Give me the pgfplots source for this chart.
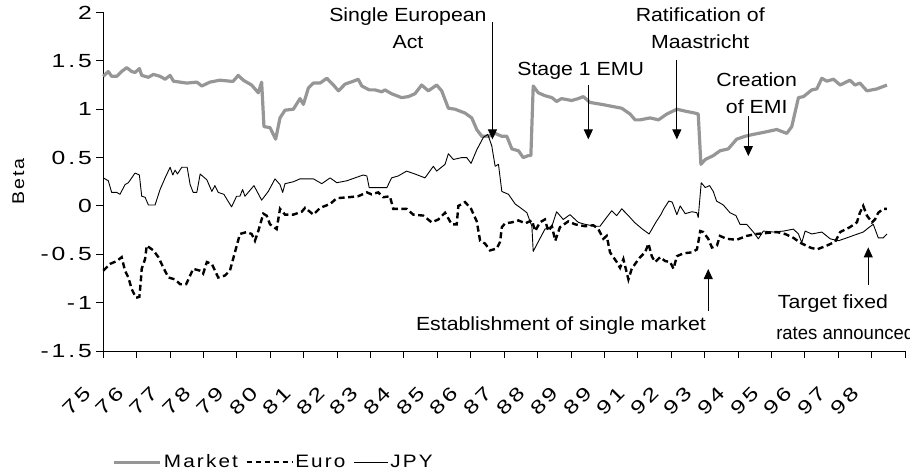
\documentclass[border=0pt]{standalone}
\usepackage{pgfplots}
\pgfplotsset{compat=1.18}
\usetikzlibrary{arrows.meta}
\usepackage{graphicx}
\usepackage{fontspec}
\setmainfont{Liberation Sans}[FakeStretch=1.12]
\newfontfamily\tickfam{Liberation Sans}[FakeStretch=1.3, LetterSpace=15]
\newfontfamily\legfam{Liberation Sans}[FakeStretch=1.15, LetterSpace=12]
\newcommand\annfont{\fontsize{19}{26.7}\selectfont}
\newcommand\tkfont{\tickfam\fontsize{19}{22}\selectfont}
\newcommand\lgfont{\legfam\fontsize{18}{22}\selectfont}
\newcommand\ylfont{\legfam\fontsize{17}{22}\selectfont}
\definecolor{mktgray}{RGB}{150,150,150}
\begin{document}
\begin{tikzpicture}
\path[use as bounding box] (-103.3pt,-122pt) rectangle (806.7pt,351pt);
\begin{axis}[
  at={(0pt,0pt)}, anchor=south west,
  scale only axis, width=801.7pt, height=338.5pt,
  xmin=0, xmax=24, ymin=-1.5, ymax=2,
  clip=false,
  axis x line*=bottom, axis y line*=left,
  axis line style={line width=0.9pt, black},
  tick style={line width=0.9pt, black},
  tick align=outside,
  major tick length=7pt,
  xtick={0,1,...,24},
  xticklabels={75,76,77,78,79,80,81,82,83,84,85,86,87,88,89,89,91,92,93,94,95,96,97,98,{}},
  ytick={-1.5,-1,-0.5,0,0.5,1,1.5,2},
  yticklabels={-1.5,-1,-0.5,0,0.5,1,1.5,2},
  ticklabel style={font=\tkfont},
  yticklabel style={xshift=-1pt},
  xticklabel style={xshift=-26.7pt, yshift=-43pt, rotate=45, anchor=center},
  ylabel={Beta},
  ylabel style={font=\ylfont},
  every axis y label/.append style={at={(axis description cs:-0.106,0.5)}, anchor=center},
  legend columns=3,
  legend style={at={(axis description cs:0.008,-0.328)}, anchor=west, draw=none, fill=none,
    font=\lgfont, /tikz/every even column/.append style={column sep=6pt}},
  legend image code/.code={\draw[#1] (0pt,0pt) -- (46pt,0pt);},
]
\addplot[mktgray, line width=3.2pt, line join=round,
  legend image code/.code={\draw[mktgray, line width=3pt] (0pt,0pt) -- (46pt,0pt);}] coordinates {
(0.00,1.34)(0.15,1.39)(0.25,1.34)(0.40,1.34)(0.55,1.39)(0.70,1.43)(0.85,1.39)(0.95,1.38)(1.08,1.42)(1.15,1.35)(1.35,1.33)(1.50,1.36)(1.70,1.34)(1.85,1.31)(2.00,1.35)(2.10,1.29)(2.30,1.28)(2.50,1.27)(2.80,1.28)(2.95,1.24)(3.19,1.28)(3.49,1.30)(3.79,1.29)(3.89,1.29)(4.04,1.35)(4.19,1.30)(4.44,1.25)(4.64,1.17)(4.74,1.28)(4.81,0.82)(4.99,0.81)(5.16,0.69)(5.29,0.91)(5.44,0.99)(5.69,1.00)(5.89,1.11)(5.99,1.05)(6.14,1.22)(6.29,1.27)(6.49,1.27)(6.69,1.32)(6.89,1.25)(7.04,1.19)(7.24,1.26)(7.49,1.29)(7.63,1.31)(7.74,1.24)(7.96,1.20)(8.13,1.20)(8.34,1.18)(8.43,1.20)(8.63,1.16)(8.93,1.12)(9.13,1.13)(9.33,1.16)(9.53,1.25)(9.73,1.19)(9.98,1.25)(10.13,1.19)(10.33,1.01)(10.53,1.00)(10.83,0.96)(11.03,0.91)(11.18,0.79)(11.33,0.72)(11.53,0.72)(11.73,0.75)(11.93,0.72)(12.08,0.72)(12.23,0.59)(12.43,0.57)(12.57,0.50)(12.72,0.52)(12.80,0.52)(12.87,1.24)(13.02,1.17)(13.22,1.14)(13.43,1.12)(13.57,1.08)(13.72,1.11)(14.02,1.09)(14.22,1.11)(14.37,1.13)(14.57,1.07)(14.92,1.05)(15.22,1.03)(15.52,1.01)(15.77,0.95)(15.92,0.89)(16.07,0.89)(16.37,0.91)(16.62,0.89)(16.87,0.95)(17.17,1.00)(17.42,0.98)(17.71,0.96)(17.81,0.95)(17.89,0.43)(18.02,0.48)(18.26,0.52)(18.46,0.57)(18.71,0.59)(18.96,0.69)(19.21,0.72)(19.46,0.74)(19.76,0.76)(20.16,0.79)(20.46,0.75)(20.61,0.82)(20.81,1.12)(20.96,1.13)(21.21,1.20)(21.36,1.21)(21.51,1.32)(21.66,1.29)(21.86,1.31)(22.06,1.25)(22.35,1.30)(22.50,1.25)(22.65,1.27)(22.86,1.19)(23.16,1.21)(23.46,1.25)
};
\addlegendentry{Market}
\addplot[black, line width=2.4pt, dash pattern=on 6pt off 3.5pt,
  legend image code/.code={\draw[black, line width=1.3pt, dash pattern=on 5pt off 4pt] (2pt,0pt) -- (48pt,0pt);}] coordinates {
(0.00,-0.67)(0.20,-0.60)(0.40,-0.57)(0.55,-0.53)(0.65,-0.67)(0.75,-0.74)(0.85,-0.86)(0.98,-0.95)(1.08,-0.94)(1.12,-0.79)(1.15,-0.65)(1.25,-0.55)(1.30,-0.41)(1.50,-0.46)(1.65,-0.53)(1.80,-0.64)(1.95,-0.74)(2.15,-0.76)(2.30,-0.81)(2.48,-0.81)(2.60,-0.72)(2.69,-0.65)(2.90,-0.67)(2.99,-0.70)(3.10,-0.58)(3.25,-0.60)(3.44,-0.74)(3.64,-0.72)(3.79,-0.67)(3.94,-0.48)(4.09,-0.29)(4.29,-0.27)(4.44,-0.29)(4.54,-0.36)(4.64,-0.26)(4.79,-0.08)(4.89,-0.10)(4.99,-0.19)(5.19,-0.24)(5.29,-0.03)(5.44,-0.09)(5.69,-0.09)(5.94,-0.06)(6.04,-0.02)(6.29,-0.09)(6.49,-0.02)(6.79,0.02)(6.99,0.08)(7.34,0.09)(7.63,0.10)(7.89,0.14)(8.03,0.12)(8.23,0.14)(8.38,0.09)(8.58,0.10)(8.68,-0.03)(8.88,-0.03)(9.08,-0.03)(9.28,-0.09)(9.58,-0.10)(9.83,-0.17)(10.03,-0.14)(10.23,-0.07)(10.43,-0.19)(10.58,-0.19)(10.63,0.00)(10.83,0.04)(11.01,-0.03)(11.18,-0.16)(11.28,-0.36)(11.43,-0.39)(11.58,-0.46)(11.78,-0.44)(11.88,-0.37)(11.93,-0.22)(12.03,-0.18)(12.23,-0.17)(12.43,-0.15)(12.63,-0.18)(12.83,-0.15)(12.93,-0.26)(13.07,-0.17)(13.22,-0.14)(13.32,-0.26)(13.43,-0.21)(13.53,-0.36)(13.67,-0.22)(13.92,-0.16)(14.12,-0.19)(14.42,-0.21)(14.67,-0.20)(14.82,-0.24)(14.97,-0.34)(15.07,-0.31)(15.17,-0.48)(15.37,-0.58)(15.47,-0.64)(15.57,-0.55)(15.72,-0.76)(15.82,-0.65)(15.92,-0.60)(16.07,-0.53)(16.22,-0.48)(16.32,-0.39)(16.42,-0.52)(16.52,-0.58)(16.67,-0.53)(16.82,-0.57)(16.97,-0.58)(17.07,-0.65)(17.17,-0.52)(17.37,-0.49)(17.62,-0.48)(17.77,-0.45)(17.81,-0.38)(17.87,-0.26)(17.96,-0.27)(18.11,-0.34)(18.22,-0.43)(18.37,-0.41)(18.46,-0.31)(18.66,-0.34)(18.96,-0.35)(19.26,-0.31)(19.56,-0.29)(19.86,-0.28)(20.16,-0.27)(20.41,-0.29)(20.66,-0.33)(20.86,-0.38)(21.16,-0.43)(21.36,-0.45)(21.66,-0.41)(21.91,-0.37)(22.06,-0.27)(22.35,-0.22)(22.56,-0.17)(22.65,-0.07)(22.75,0.00)(22.86,-0.10)(23.01,-0.17)(23.10,-0.14)(23.20,-0.07)(23.35,-0.03)(23.46,-0.03)
};
\addlegendentry{Euro}
\addplot[black, line width=0.9pt, line join=round,
  legend image code/.code={\draw[black, line width=0.9pt] (6pt,0pt) -- (40pt,0pt);}] coordinates {
(0.00,0.29)(0.15,0.26)(0.25,0.14)(0.40,0.14)(0.50,0.12)(0.65,0.22)(0.75,0.24)(0.95,0.34)(1.08,0.32)(1.15,0.10)(1.25,0.09)(1.35,0.01)(1.55,0.01)(1.70,0.17)(1.85,0.29)(2.00,0.40)(2.08,0.32)(2.15,0.37)(2.22,0.33)(2.35,0.40)(2.51,0.40)(2.60,0.22)(2.69,0.14)(2.80,0.14)(2.90,0.33)(3.10,0.27)(3.25,0.15)(3.34,0.21)(3.44,0.14)(3.61,0.12)(3.84,-0.01)(3.99,0.10)(4.09,0.10)(4.17,0.17)(4.24,0.10)(4.51,0.21)(4.74,0.06)(4.94,0.15)(5.14,0.28)(5.29,0.22)(5.37,0.14)(5.44,0.23)(5.69,0.25)(5.89,0.28)(6.29,0.28)(6.54,0.23)(6.79,0.29)(6.99,0.24)(7.29,0.26)(7.78,0.32)(7.89,0.31)(7.96,0.19)(8.13,0.19)(8.49,0.19)(8.63,0.29)(8.83,0.31)(9.08,0.36)(9.33,0.33)(9.63,0.29)(9.88,0.41)(9.98,0.36)(10.23,0.43)(10.33,0.54)(10.48,0.48)(10.73,0.50)(10.88,0.50)(11.01,0.44)(11.18,0.58)(11.38,0.71)(11.51,0.74)(11.63,0.62)(11.73,0.41)(11.83,0.43)(11.93,0.15)(12.13,0.12)(12.33,0.02)(12.53,-0.03)(12.68,-0.07)(12.83,-0.21)(12.87,-0.47)(13.22,-0.24)(13.43,-0.21)(13.57,-0.06)(13.77,-0.14)(13.97,-0.09)(14.22,-0.17)(14.42,-0.19)(14.72,-0.21)(14.87,-0.21)(15.02,-0.14)(15.22,-0.05)(15.37,-0.10)(15.52,-0.03)(15.72,-0.10)(15.90,-0.17)(16.14,-0.24)(16.34,-0.29)(16.54,-0.17)(16.69,-0.09)(16.78,-0.03)(16.93,0.05)(17.03,0.04)(17.17,-0.09)(17.27,0.00)(17.42,-0.08)(17.62,-0.06)(17.77,-0.07)(17.81,-0.12)(17.90,0.24)(18.02,0.19)(18.15,0.21)(18.26,0.15)(18.36,0.05)(18.56,0.01)(18.76,-0.07)(18.94,-0.10)(19.06,-0.19)(19.26,-0.19)(19.46,-0.27)(19.61,-0.34)(19.76,-0.26)(20.06,-0.27)(20.36,-0.26)(20.66,-0.24)(20.81,-0.29)(20.91,-0.38)(21.01,-0.26)(21.21,-0.29)(21.51,-0.27)(21.76,-0.34)(22.01,-0.36)(22.26,-0.33)(22.50,-0.30)(22.75,-0.27)(22.93,-0.22)(23.05,-0.19)(23.20,-0.33)(23.35,-0.33)(23.46,-0.29)
};
\addlegendentry{JPY}
% annotations
\node[align=center, font=\annfont] at (axis cs:9.12,1.837) {Single European\\Act};
\draw[line width=1pt, -{Triangle[width=9pt,length=10pt]}] (axis cs:11.65,1.904) -- (axis cs:11.65,0.688);
\node[align=center, font=\annfont] at (axis cs:14.29,1.392) {Stage 1 EMU};
\draw[line width=1pt, -{Triangle[width=9pt,length=10pt]}] (axis cs:14.52,1.255) -- (axis cs:14.52,0.688);
\node[align=center, font=\annfont] at (axis cs:17.87,1.839) {Ratification of\\Maastricht};
\draw[line width=1pt, -{Triangle[width=9pt,length=10pt]}] (axis cs:17.17,1.512) -- (axis cs:17.17,0.688);
\node[align=center, font=\annfont] at (axis cs:19.56,1.169) {Creation\\of EMI};
\draw[line width=1pt, -{Triangle[width=9pt,length=10pt]}] (axis cs:19.31,0.928) -- (axis cs:19.31,0.515);
\node[align=center, font=\annfont] at (axis cs:13.70,-1.240) {Establishment of single market};
\draw[line width=1pt, -{Triangle[width=9pt,length=10pt]}] (axis cs:18.11,-1.086) -- (axis cs:18.11,-0.653);
\node[anchor=west, font=\annfont, inner sep=0pt] at (axis cs:20.19,-1.013) {Target fixed};
\node[anchor=west, font=\annfont, inner sep=0pt] at (axis cs:20.14,-1.312) {\scalebox{0.87}[1]{rates announced}};
\draw[line width=1pt, -{Triangle[width=9pt,length=10pt]}] (axis cs:22.90,-0.818) -- (axis cs:22.90,-0.429);
\end{axis}
\end{tikzpicture}
\end{document}
